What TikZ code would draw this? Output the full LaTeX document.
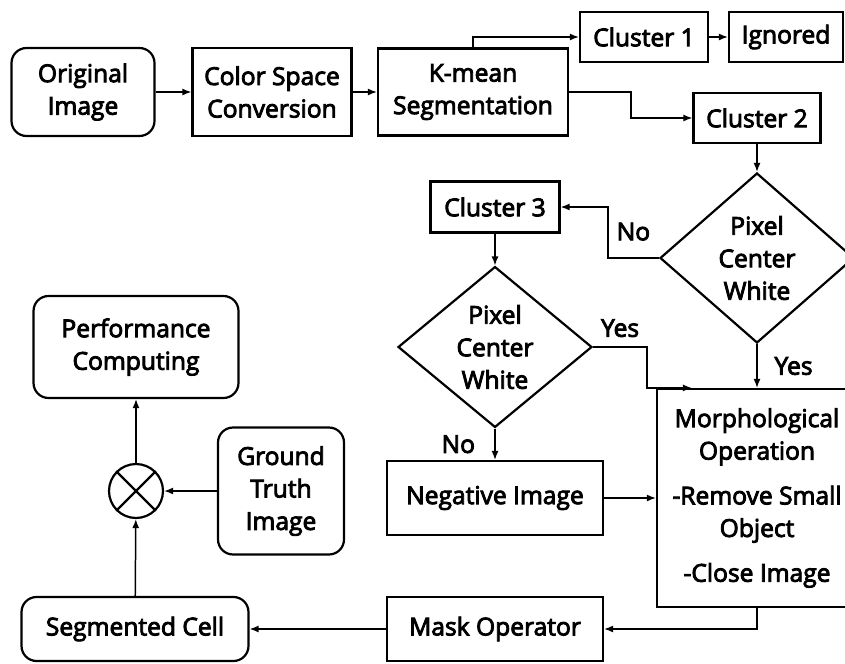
\documentclass[tikz,border=0pt]{standalone}
\usepackage{fontspec}
\setmainfont{Open Sans}
\newfontfamily\flowfont{Open Sans}[FakeBold=3.5]
\usetikzlibrary{arrows.meta,calc,shapes.geometric}
\tikzset{
  flow/box/.style={
    draw=black, line width=1.25pt, fill=white, inner sep=2pt,
    align=center, font=\flowfont\fontsize{14}{18.5}\selectfont
  },
  flow/round/.style={flow/box, rounded corners=0.3cm},
  flow/decision/.style={flow/box, diamond, inner sep=0pt},
  flow/mult/.style={draw=black, circle, line width=1.25pt,
    minimum size=1.08cm, inner sep=0pt},
  flow/arrow/.style={
    -{Latex[length=1.8mm,width=1.4mm]}, line width=.85pt, draw=black
  },
  flow/note/.style={font=\flowfont\fontsize{14}{18.5}\selectfont, inner sep=1pt}
}
\begin{document}
\begin{tikzpicture}[x=0.02cm,y=-0.02cm]
  \path[use as bounding box, fill=white] (0,0) rectangle (845,663);
  % top row
  \node[flow/round, minimum width=2.86cm, minimum height=1.76cm] (orig) at (83,92)
    {Original\\Image};
  \node[flow/box, minimum width=3.18cm, minimum height=1.76cm] (csc) at (272,92)
    {Color Space\\Conversion};
  \node[flow/box, minimum width=3.8cm, minimum height=1.74cm] (kmean) at (473,92)
    {K-mean\\Segmentation};
  \node[flow/box, minimum width=2.56cm, minimum height=1cm] (cl1) at (644,37) {Cluster 1};
  \node[flow/box, minimum width=2.28cm, minimum height=1cm] (ign) at (786,37) {Ignored};
  \node[flow/box, minimum width=2.54cm, minimum height=1cm] (cl2) at (757,118) {Cluster 2};
  % decisions
  \node[flow/decision, minimum width=3.88cm, minimum height=3.4cm] (pix1) at (757,258)
    {Pixel\\Center\\White};
  \node[flow/box, minimum width=2.58cm, minimum height=1.02cm] (cl3) at (495,207) {Cluster 3};
  \node[flow/decision, minimum width=3.88cm, minimum height=3.2cm] (pix2) at (495,347)
    {Pixel\\Center\\White};
  \node[flow/box, minimum width=4cm, minimum height=4.36cm] (morph) at (757,498)
    {Morphological\\Operation\\[7pt]-Remove Small\\Object\\[7pt]-Close Image};
  \node[flow/box, minimum width=4.32cm, minimum height=1.48cm] (neg) at (495,498)
    {Negative Image};
  \node[flow/box, minimum width=4.32cm, minimum height=1.28cm] (mask) at (495,629)
    {Mask Operator};
  % evaluation
  \node[flow/round, minimum width=4.54cm, minimum height=1.28cm] (seg) at (135,629)
    {Segmented Cell};
  \node[flow/mult] (mult) at (136,491) {};
  \draw[line width=1.25pt] (mult.45) -- (mult.225) (mult.135) -- (mult.315);
  \node[flow/round, minimum width=2.52cm, minimum height=2.54cm] (gt) at (281,491)
    {Ground\\Truth\\Image};
  \node[flow/round, minimum width=4.1cm, minimum height=2.04cm] (perf) at (136,347)
    {Performance\\Computing};
  \coordinate (morphin) at ($(morph.north west)+(36,0)$);
  % connectors
  \draw[flow/arrow] (orig) -- (csc);
  \draw[flow/arrow] (csc) -- (kmean);
  \draw[flow/arrow] (kmean.north) |- (cl1.west);
  \draw[flow/arrow] (kmean.east) -- ++(62,0) |- (cl2.west);
  \draw[flow/arrow] (cl1) -- (ign);
  \draw[flow/arrow] (cl2) -- (pix1);
  \draw[flow/arrow] (pix1.west) -- ++(-51,0)
    node[flow/note, midway, above=0.3cm] {No} |- (cl3.east);
  \draw[flow/arrow] (cl3) -- (pix2);
  \draw[flow/arrow] (pix2.east) -- ++(54,0)
    node[flow/note, midway, above=0.15cm] {Yes} |- (morphin);
  \draw[flow/arrow] (pix1.south) -- (morph.north)
    node[flow/note, midway, right=0.3cm] {Yes};
  \draw[flow/arrow] (pix2.south) -- (neg.north)
    node[flow/note, midway, left=0.35cm] {No};
  \draw[flow/arrow] (neg) -- (morph);
  \draw[flow/arrow] (morph.south) |- (mask.east);
  \draw[flow/arrow] (mask) -- (seg);
  \draw[flow/arrow] (seg) -- (mult);
  \draw[flow/arrow] (gt) -- (mult);
  \draw[flow/arrow] (mult) -- (perf);
\end{tikzpicture}
\end{document}
